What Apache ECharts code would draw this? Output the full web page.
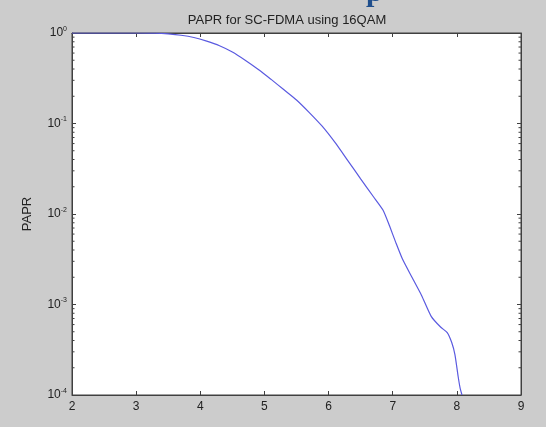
<!DOCTYPE html>
<html>
<head>
<meta charset="utf-8">
<script src="https://cdn.jsdelivr.net/npm/echarts@6/dist/echarts.min.js"></script>
<style>
html,body{margin:0;padding:0;background:#cccccc;}
#c{width:546px;height:427px;}
</style>
</head>
<body>
<div id="c"></div>
<script>
const titleText = 'PAPR for SC-FDMA using 16QAM';
const yLabel = 'PAPR';
const xTicks = [2, 3, 4, 5, 6, 7, 8, 9];
const papr0 = [2.0, 2.5, 3.0, 3.3, 3.5, 3.7, 3.9, 4.1, 4.3, 4.5, 4.7, 4.9, 5.1, 5.3, 5.5, 5.7, 5.9, 6.1, 6.3, 6.5, 6.7, 6.85, 6.95, 7.05, 7.15, 7.3, 7.45, 7.6, 7.75, 7.85, 7.92, 7.97, 8.02, 8.05, 8.08];
const ccdf = [1, 1, 1, 0.9954, 0.977, 0.944, 0.891, 0.813, 0.724, 0.617, 0.501, 0.398, 0.309, 0.237, 0.182, 0.132, 0.0933, 0.0617, 0.0389, 0.0245, 0.0155, 0.011, 0.0074, 0.0048, 0.0032, 0.002, 0.00126, 0.00074, 0.00056, 0.00049, 0.00038, 0.00028, 0.00016, 0.00012, 0.0001];
const decades = [0.0001, 0.001, 0.01, 0.1, 1];

const lineData = papr0.map((x, i) => [x, ccdf[i]]);
// minor tick positions (2..9 x 10^k)
const minorVals = [];
for (let k = 0; k < decades.length - 1; k++) {
  for (let m = 2; m <= 9; m++) minorVals.push([m * decades[k]]);
}

const chart = echarts.init(document.getElementById('c'), null, {renderer: 'canvas'});
const axisCol = '#404040';
const font = 'Liberation Sans, Arial';
chart.setOption({
  backgroundColor: '#cccccc',
  animation: false,
  title: {
    text: titleText, left: 282, top: 9, textAlign: 'center',
    textStyle: {fontFamily: font, fontSize: 13, fontWeight: 'normal', color: '#222'}
  },
  graphic: [{
    type: 'text', left: 366, top: -22,
    style: {text: 'p', fontFamily: 'Liberation Serif, serif', fontSize: 30, fontWeight: 'bold', fill: '#1f4e8c'}
  }],
  grid: {left: 72, right: 25, top: 33, bottom: 32, show: true, backgroundColor: '#ffffff', borderColor: axisCol, borderWidth: 1},
  xAxis: [{
    type: 'value', min: 2, max: 9, interval: 1, position: 'bottom',
    axisLine: {show: true, lineStyle: {color: axisCol}},
    axisTick: {show: true, inside: true, length: 4, lineStyle: {color: axisCol}},
    axisLabel: {color: '#222', fontSize: 12, fontFamily: font, margin: 6},
    splitLine: {show: false}
  }, {
    type: 'value', min: 2, max: 9, interval: 1, position: 'top',
    axisLine: {show: true, lineStyle: {color: axisCol}},
    axisTick: {show: true, inside: true, length: 4, lineStyle: {color: axisCol}},
    axisLabel: {show: false}, splitLine: {show: false}
  }],
  yAxis: [{
    type: 'log', logBase: 10, min: 0.0001, max: 1, splitNumber: 4, position: 'left',
    name: yLabel, nameLocation: 'middle', nameGap: 38, nameRotate: 90,
    nameTextStyle: {color: '#222', fontSize: 13, fontFamily: font},
    axisLine: {show: true, lineStyle: {color: axisCol}},
    axisTick: {show: true, inside: true, length: 4, lineStyle: {color: axisCol}},
    axisLabel: {
      margin: 5, fontSize: 12, color: '#222', fontFamily: font,
      formatter: v => '10{s|' + Math.round(Math.log10(v)) + '}',
      rich: {s: {fontSize: 7, verticalAlign: 'top', padding: [0, 0, 8, 0], color: '#222'}}
    },
    splitLine: {show: false}
  }, {
    type: 'log', logBase: 10, min: 0.0001, max: 1, splitNumber: 4, position: 'right',
    axisLine: {show: true, lineStyle: {color: axisCol}},
    axisTick: {show: true, inside: true, length: 4, lineStyle: {color: axisCol}},
    axisLabel: {show: false}, splitLine: {show: false}
  }],
  series: [{
    type: 'line', xAxisIndex: 0, yAxisIndex: 0, data: lineData, showSymbol: false, smooth: 0.2,
    lineStyle: {color: '#5a5ae0', width: 1.2}, clip: true, z: 3
  }, {
    type: 'custom', xAxisIndex: 0, yAxisIndex: 0, data: minorVals, silent: true, clip: false,
    renderItem: function (params, api) {
      const y = api.coord([2, api.value(0)])[1];
      const xl = api.coord([2, 1])[0];
      const xr = api.coord([9, 1])[0];
      return {type: 'group', children: [
        {type: 'line', shape: {x1: xl, y1: y, x2: xl + 2.5, y2: y}, style: {stroke: axisCol, lineWidth: 1}},
        {type: 'line', shape: {x1: xr - 2.5, y1: y, x2: xr, y2: y}, style: {stroke: axisCol, lineWidth: 1}}
      ]};
    }
  }]
});
</script>
</body>
</html>
